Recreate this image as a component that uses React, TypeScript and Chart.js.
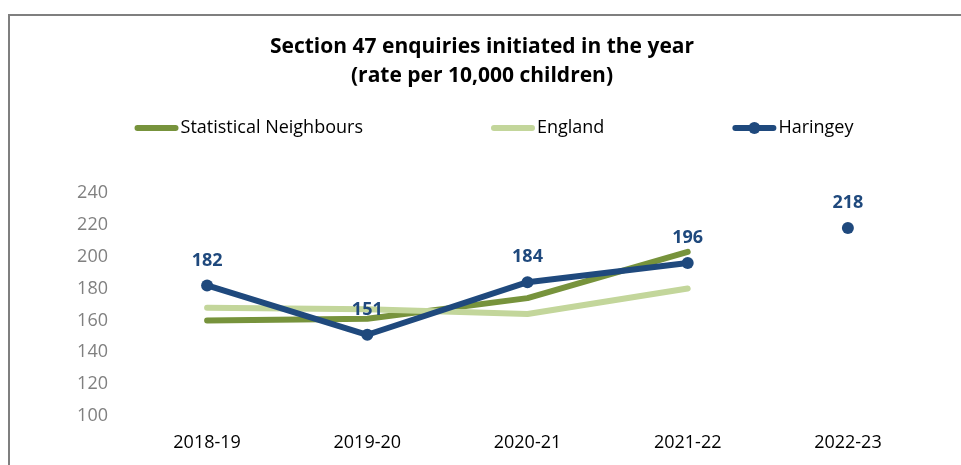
import React, { useEffect, useRef } from "react";
import { Chart, registerables } from "chart.js";

Chart.register(...registerables);

const categories = ["2018-19", "2019-20", "2020-21", "2021-22", "2022-23"];
const statisticalNeighbours = [160, 161, 174, 203, null];
const england = [168, 167, 164, 180, null];
const haringey = [182, 151, 184, 196, 218];
const yMin = 100;
const yMax = 240;
const yStep = 20;
const titleLines = ["Section 47 enquiries initiated in the year", "(rate per 10,000 children)"];
const haringeyUnconnected = "2022-23";

const SN_COLOR = "#77933C";
const ENG_COLOR = "#C3D69B";
const HAR_COLOR = "#1F497D";

const FONT = "'Open Sans', 'Noto Sans', sans-serif";

const framePlugin = {
  id: "frame",
  beforeDraw(chart: any) {
    const ctx = chart.ctx;
    ctx.save();
    ctx.strokeStyle = "#7f7f7f";
    ctx.lineWidth = 2;
    ctx.beginPath();
    ctx.moveTo(9, chart.height);
    ctx.lineTo(9, 15);
    ctx.lineTo(chart.width, 15);
    ctx.stroke();
    ctx.restore();
  },
};

const titlePlugin = {
  id: "customTitle",
  afterDraw(chart: any) {
    const ctx = chart.ctx;
    ctx.save();
    ctx.fillStyle = "#000";
    ctx.font = `bold 21px ${FONT}`;
    ctx.textAlign = "center";
    ctx.textBaseline = "middle";
    titleLines.forEach((line, i) => {
      ctx.fillText(line, 482, 47 + i * 29);
    });
    ctx.restore();
  },
};

const legendPlugin = {
  id: "customLegend",
  afterDraw(chart: any) {
    const ctx = chart.ctx;
    const items = chart.data.datasets;
    const lineW = 44;
    const gap = 128;
    const y = 128;
    ctx.save();
    ctx.font = `18px ${FONT}`;
    const widths = items.map((d: any) => lineW + 2 + ctx.measureText(d.label).width);
    const total = widths.reduce((a: number, b: number) => a + b, 0) + gap * (items.length - 1);
    let x = 494 - total / 2;
    items.forEach((d: any, i: number) => {
      ctx.strokeStyle = d.borderColor;
      ctx.lineWidth = 6;
      ctx.lineCap = "round";
      ctx.beginPath();
      ctx.moveTo(x + 3, y);
      ctx.lineTo(x + lineW - 3, y);
      ctx.stroke();
      if (d.pointRadius > 0) {
        ctx.fillStyle = d.borderColor;
        ctx.beginPath();
        ctx.arc(x + lineW / 2, y, 6, 0, Math.PI * 2);
        ctx.fill();
      }
      ctx.fillStyle = "#000";
      ctx.textAlign = "left";
      ctx.textBaseline = "middle";
      ctx.fillText(d.label, x + lineW + 2, y);
      x += widths[i] + gap;
    });
    ctx.restore();
  },
};

const labelPlugin = {
  id: "dataLabels",
  afterDatasetsDraw(chart: any) {
    const ctx = chart.ctx;
    chart.data.datasets.forEach((d: any, i: number) => {
      if (!d.showLabels) return;
      const meta = chart.getDatasetMeta(i);
      ctx.save();
      ctx.fillStyle = d.borderColor;
      ctx.font = `bold 18px ${FONT}`;
      ctx.textAlign = "center";
      ctx.textBaseline = "middle";
      meta.data.forEach((pt: any, j: number) => {
        const v = d.data[j];
        if (v == null) return;
        ctx.fillText(String(v), pt.x, pt.y - 25);
      });
      ctx.restore();
    });
  },
};

export default function App() {
  const ref = useRef<HTMLCanvasElement | null>(null);
  useEffect(() => {
    if (!ref.current) return;
    const breakIdx = categories.indexOf(haringeyUnconnected);
    const chart = new Chart(ref.current, {
      type: "line",
      data: {
        labels: categories,
        datasets: [
          {
            label: "Statistical Neighbours",
            data: statisticalNeighbours,
            borderColor: SN_COLOR,
            backgroundColor: SN_COLOR,
            borderWidth: 6,
            pointRadius: 0,
            borderCapStyle: "round",
            borderJoinStyle: "round",
            order: 3,
          },
          {
            label: "England",
            data: england,
            borderColor: ENG_COLOR,
            backgroundColor: ENG_COLOR,
            borderWidth: 6,
            pointRadius: 0,
            borderCapStyle: "round",
            borderJoinStyle: "round",
            order: 2,
          },
          {
            label: "Haringey",
            data: haringey,
            borderColor: HAR_COLOR,
            backgroundColor: HAR_COLOR,
            borderWidth: 6,
            pointRadius: 6,
            pointBorderWidth: 0,
            pointHoverRadius: 6,
            borderCapStyle: "round",
            borderJoinStyle: "round",
            order: 1,
            showLabels: true,
            segment: {
              borderColor: (c: any) => (c.p1DataIndex === breakIdx ? "rgba(0,0,0,0)" : undefined),
            },
          } as any,
        ],
      },
      options: {
        animation: false,
        responsive: false,
        layout: { padding: { top: 193, right: 33, left: 0, bottom: 0 } },
        plugins: {
          legend: { display: false },
          title: { display: false },
          tooltip: { enabled: false },
        },
        scales: {
          x: {
            offset: true,
            grid: { display: false, drawTicks: false },
            border: { display: false },
            ticks: { color: "#000", font: { family: FONT, size: 18 }, padding: 16 },
            afterFit: (s: any) => {
              s.height = 49;
            },
          },
          y: {
            min: yMin,
            max: yMax,
            grid: { display: false, drawTicks: false },
            border: { display: false },
            ticks: { stepSize: yStep, color: "#808080", font: { family: FONT, size: 18 }, padding: 19 },
            afterFit: (s: any) => {
              s.width = 127;
            },
          },
        },
      },
      plugins: [framePlugin, titlePlugin, legendPlugin, labelPlugin],
    });
    return () => chart.destroy();
  }, []);
  return (
    <div style={{ position: "fixed", left: 0, top: 0, width: 961, height: 465, background: "#fff" }}>
      <canvas ref={ref} width={961} height={465} style={{ display: "block" }} />
    </div>
  );
}
